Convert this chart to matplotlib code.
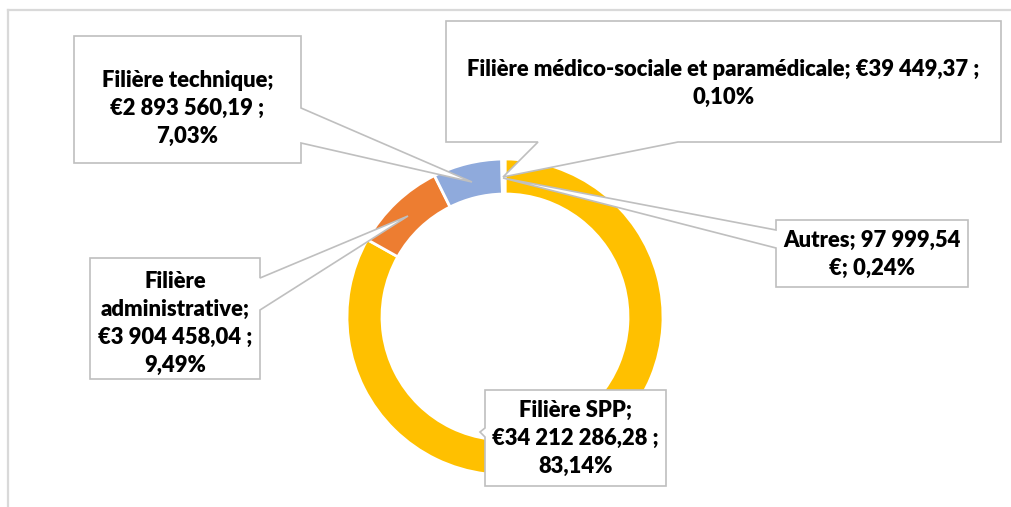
import matplotlib
matplotlib.use("Agg")
import matplotlib.pyplot as plt
from matplotlib.patches import Polygon
from matplotlib.lines import Line2D

# ---------------- data ----------------
categories = ["Filière SPP", "Filière administrative", "Filière technique",
              "Filière médico-sociale et paramédicale", "Autres"]
values = [34212286.28, 3904458.04, 2893560.19, 39449.37, 97999.54]
colors = ["#FFC000", "#ED7D31", "#8FAADC", "#A5A5A5", "#70AD47"]
label_lines = [
    ["Filière SPP;", "€34 212 286,28 ;", "83,14%"],
    ["Filière", "administrative;", "€3 904 458,04 ;", "9,49%"],
    ["Filière technique;", "€2 893 560,19 ;", "7,03%"],
    ["Filière médico-sociale et paramédicale; €39 449,37 ;", "0,10%"],
    ["Autres; 97 999,54", "€; 0,24%"],
]

# ---------------- layout (pixel coords, y down) ----------------
W, H = 1011, 507
def P(x, y):
    return (x, H - y)

# callout polygons: list of (x, y) pixel points
callouts = [
    # SPP
    [(485, 390), (666, 390), (666, 486), (485, 486), (485, 437), (480, 432), (485, 428)],
    # administrative
    [(90, 258), (260, 258), (260, 278), (408, 216), (260, 310), (260, 379), (90, 379)],
    # technique
    [(74, 36), (301, 36), (301, 108), (472, 182), (301, 143), (301, 163), (74, 163)],
    # medico
    [(446, 21), (1001, 21), (1001, 142), (678, 142), (503, 177), (538, 142), (446, 142)],
    # autres
    [(776, 220), (968, 220), (968, 287), (776, 287), (776, 248), (503, 178), (776, 230)],
]
text_x = [575.5, 175, 187.5, 723.5, 872]
first_baseline = [417, 288.5, 87, 76, 247]
line_step = 27.8

fig = plt.figure(figsize=(W / 100, H / 100), dpi=100)
ax = fig.add_axes([0, 0, 1, 1])

ax.pie(values, colors=colors, startangle=90, counterclock=False,
       radius=158, center=P(505, 317),
       wedgeprops=dict(width=35, edgecolor="white", linewidth=2.0))
ax.set_xlim(0, W)
ax.set_ylim(0, H)
ax.set_aspect("equal")
ax.axis("off")

# outer chart frame (top and left edges visible)
frame_col = "#D9D9D9"
ax.add_line(Line2D([7.5, W], [H - 9.5, H - 9.5], color=frame_col, lw=1.6))
ax.add_line(Line2D([7.5, 7.5], [H - 9.5, 0], color=frame_col, lw=1.6))

for pts in callouts:
    poly = Polygon([P(x, y) for x, y in pts], closed=True, facecolor="white",
                   edgecolor="#BFBFBF", lw=1.2, zorder=5, joinstyle="miter")
    ax.add_patch(poly)

# font size fit: the long médico line is ~515 px wide
font = dict(family=["Lato", "DejaVu Sans"], weight="heavy")
probe = ax.text(0, 0, label_lines[3][0], fontsize=14, **font)
fig.canvas.draw()
w = probe.get_window_extent(fig.canvas.get_renderer()).width
probe.remove()
fs = 14 * 515.0 / w

for lines, tx, b0 in zip(label_lines, text_x, first_baseline):
    for i, ln in enumerate(lines):
        ax.text(*P(tx, b0 + i * line_step), ln, ha="center", va="baseline",
                fontsize=fs, color="black", zorder=6, **font)

fig.savefig("out.png", dpi=100)
